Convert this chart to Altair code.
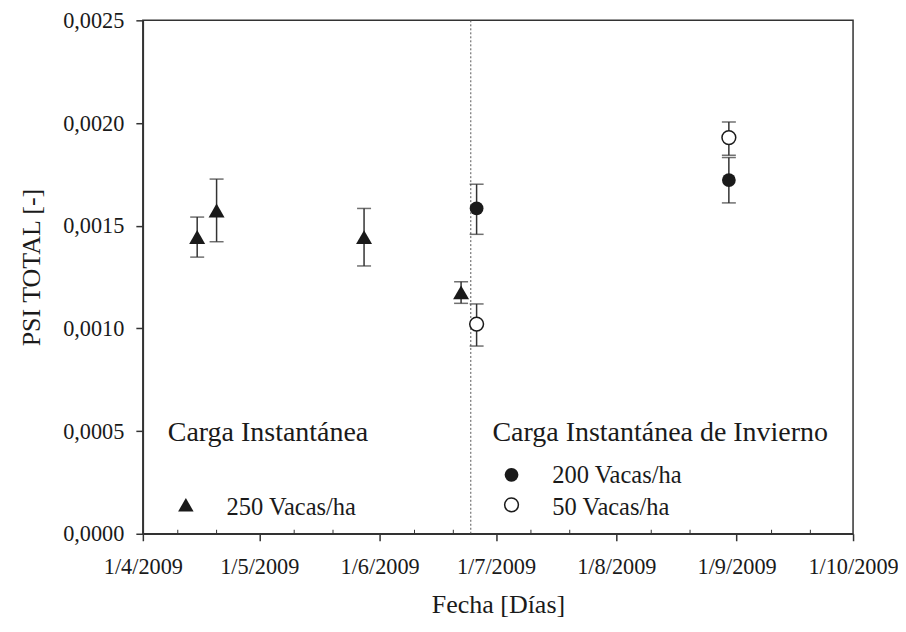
import altair as alt
import pandas as pd

# ---- data ----
tri_fechas = ["2009-04-15", "2009-04-20", "2009-05-28", "2009-06-22"]
tri_psi = [0.001445, 0.001574, 0.001444, 0.001175]
tri_lo = [0.001347, 0.001422, 0.001304, 0.001122]
tri_hi = [0.001542, 0.001727, 0.001584, 0.001227]

c200_fechas = ["2009-06-26", "2009-08-30"]
c200_psi = [0.001584, 0.001722]
c200_lo = [0.001458, 0.001611]
c200_hi = [0.001702, 0.001832]

c50_fechas = ["2009-06-26", "2009-08-30"]
c50_psi = [0.001021, 0.001929]
c50_lo = [0.000914, 0.001843]
c50_hi = [0.001119, 0.002005]

corte_fecha = ["2009-06-24T12:00:00Z"]

mes_ticks = [(2009, m) for m in range(4, 11)]
menor_ticks = [f"2009-{m:02d}-{d:02d}" for m in range(4, 10) for d in (10, 20)]

titulos_txt = ["Carga Instantánea", "Carga Instantánea de Invierno"]
titulos_fecha = ["2009-04-07T10:00:00Z", "2009-06-30T02:00:00Z"]
titulos_psi = [0.00045, 0.00045]

ley_txt = ["250 Vacas/ha", "200 Vacas/ha", "50 Vacas/ha"]
ley_txt_fecha = ["2009-04-22T14:00:00Z", "2009-07-15T12:00:00Z", "2009-07-15T12:00:00Z"]
ley_txt_psi = [0.000092, 0.000247, 0.000092]
ley_sym_fecha = ["2009-04-12T02:00:00Z", "2009-07-05T00:00:00Z", "2009-07-05T00:00:00Z"]
ley_sym_psi = [0.000141, 0.000287, 0.000141]

FONT = "Liberation Serif, Times New Roman, DejaVu Serif, serif"
INK = "#1a1a1a"
LINE = "#333333"

xscale = alt.Scale(
    type="utc",
    domain=[alt.DateTime(year=2009, month=4, date=1, utc=True),
            alt.DateTime(year=2009, month=10, date=1, utc=True)],
)
xaxis = alt.Axis(
    values=[alt.DateTime(year=y, month=m, date=1, utc=True) for y, m in mes_ticks],
    labelExpr="utcFormat(datum.value, '%-d/%-m/%Y')",
    labelOverlap=False,
    labelFlush=False,
    title="Fecha [Días]",
    titlePadding=14,
    labelPadding=15,
)
yscale = alt.Scale(domain=[0, 0.0025], nice=False, zero=True)
yaxis = alt.Axis(
    values=[0, 0.0005, 0.001, 0.0015, 0.002, 0.0025],
    labelExpr="replace(format(datum.value, '.4f'), '.', ',')",
    labelOverlap=False,
    labelFlush=False,
    title="PSI TOTAL [-]",
    titlePadding=18,
    titleY=247,
    labelPadding=12,
)


def X(field="fecha"):
    return alt.X(f"{field}:T", scale=xscale, axis=xaxis)


def Y(field="psi"):
    return alt.Y(f"{field}:Q", scale=yscale, axis=yaxis)


def serie(fechas, psi, lo, hi):
    return pd.DataFrame({"fecha": fechas, "psi": psi, "lo": lo, "hi": hi})


d_tri = serie(tri_fechas, tri_psi, tri_lo, tri_hi)
d_200 = serie(c200_fechas, c200_psi, c200_lo, c200_hi)
d_50 = serie(c50_fechas, c50_psi, c50_lo, c50_hi)

layers = []

# vertical dotted separator
layers.append(
    alt.Chart(pd.DataFrame({"fecha": corte_fecha}))
    .mark_rule(color="#555555", strokeDash=[2, 2], strokeWidth=1)
    .encode(x=X())
)

# minor ticks (inward) on the x axis
layers.append(
    alt.Chart(pd.DataFrame({"fecha": menor_ticks}))
    .mark_rule(color=LINE, strokeWidth=1)
    .encode(x=X(), y=alt.value(514), y2=alt.value(510))
)

for d in (d_tri, d_200, d_50):
    base = alt.Chart(d)
    layers.append(base.mark_rule(color=LINE, strokeWidth=1.5).encode(x=X(), y=Y("lo"), y2="hi"))
    layers.append(base.mark_tick(color=LINE, orient="horizontal", size=14, thickness=1.5).encode(x=X(), y=Y("lo")))
    layers.append(base.mark_tick(color=LINE, orient="horizontal", size=14, thickness=1.5).encode(x=X(), y=Y("hi")))

layers.append(
    alt.Chart(d_tri).mark_point(shape="triangle-up", size=256, filled=True, color=INK, opacity=1)
    .encode(x=X(), y=Y())
)
layers.append(
    alt.Chart(d_200).mark_point(shape="circle", size=190, filled=True, color=INK, opacity=1)
    .encode(x=X(), y=Y())
)
layers.append(
    alt.Chart(d_50).mark_point(shape="circle", size=190, filled=True, fill="white",
                               stroke=INK, strokeWidth=1.5, opacity=1)
    .encode(x=X(), y=Y())
)

# annotation titles
layers.append(
    alt.Chart(pd.DataFrame({"fecha": titulos_fecha, "psi": titulos_psi, "t": titulos_txt}))
    .mark_text(font=FONT, fontSize=28, align="left", baseline="alphabetic", color=INK)
    .encode(x=X(), y=Y(), text="t:N")
)

# legend symbols
ley_sym = pd.DataFrame({"fecha": ley_sym_fecha, "psi": ley_sym_psi, "k": ["tri", "c200", "c50"]})
layers.append(
    alt.Chart(ley_sym[ley_sym.k == "tri"]).mark_point(shape="triangle-up", size=240, filled=True, color=INK, opacity=1)
    .encode(x=X(), y=Y())
)
layers.append(
    alt.Chart(ley_sym[ley_sym.k == "c200"]).mark_point(shape="circle", size=190, filled=True, color=INK, opacity=1)
    .encode(x=X(), y=Y())
)
layers.append(
    alt.Chart(ley_sym[ley_sym.k == "c50"]).mark_point(shape="circle", size=190, filled=True, fill="white",
                                                       stroke=INK, strokeWidth=1.5, opacity=1)
    .encode(x=X(), y=Y())
)
layers.append(
    alt.Chart(pd.DataFrame({"fecha": ley_txt_fecha, "psi": ley_txt_psi, "t": ley_txt}))
    .mark_text(font=FONT, fontSize=24.5, align="left", baseline="alphabetic", color=INK)
    .encode(x=X(), y=Y(), text="t:N")
)

chart = (
    alt.layer(*layers)
    .properties(
        width=711,
        height=514,
        autosize=alt.AutoSizeParams(type="none"),
        padding={"left": 135, "top": 12, "right": 45, "bottom": 90},
    )
    .configure_view(stroke=LINE, strokeWidth=1.5)
    .configure_axis(
        grid=False,
        domainColor=LINE,
        domainWidth=1.5,
        tickColor=LINE,
        tickWidth=1.5,
        tickSize=7,
        labelFont=FONT,
        labelFontSize=22.3,
        labelColor=INK,
        titleFont=FONT,
        titleFontSize=26,
        titleFontWeight="normal",
        titleColor=INK,
    )
)

chart.save("out.html", embed_options={"renderer": "svg", "actions": False})
